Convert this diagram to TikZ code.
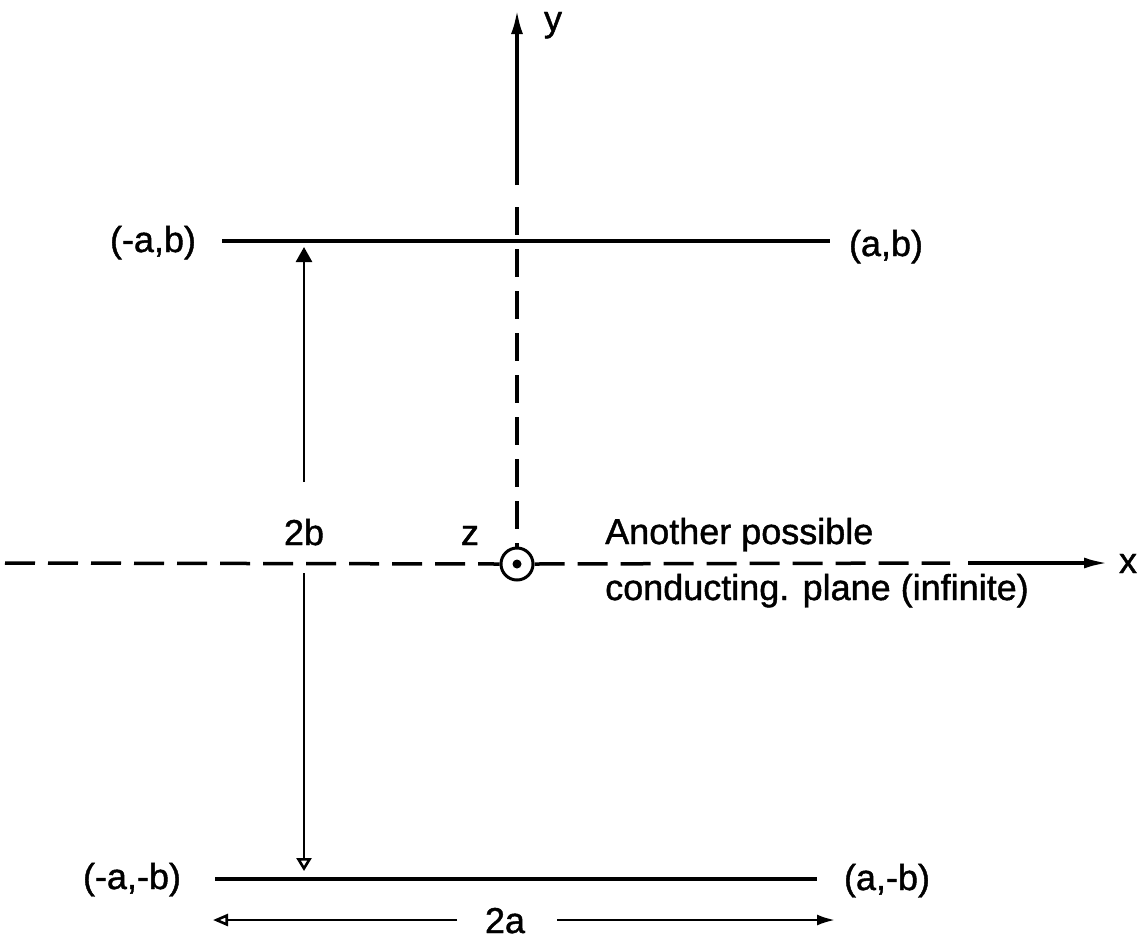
\documentclass[tikz,border=0pt]{standalone}
\usepackage{fontspec}
\setmainfont{Liberation Sans}
\newfontfamily\lettering{Liberation Sans}[FakeBold=1.2]
\usetikzlibrary{arrows.meta}
\begin{document}
\begin{tikzpicture}[x=1pt,y=-1pt,
  plate/.style={line width=4.5pt},
  axisline/.style={line width=3.5pt},
  dimline/.style={line width=2.6pt},
  dashy/.style={dash pattern=on 28pt off 14pt},
  dashx/.style={dash pattern=on 30pt off 13pt},
  lab/.style={font=\lettering\fontsize{36}{40}\selectfont, inner sep=0pt, anchor=base},
  labw/.style={lab, anchor=base west}]
\useasboundingbox (0,0) rectangle (1147,940);

% plates
\coordinate (TL) at (222,241);
\coordinate (TR) at (830,241);
\coordinate (BL) at (215,879);
\coordinate (BR) at (817,879);
\draw[plate] (TL) -- (TR);
\draw[plate] (BL) -- (BR);

% z-axis marker (out of page)
\node[draw, circle, minimum size=32pt, inner sep=0pt, line width=3pt] (Z) at (517,564) {};
\fill (Z.center) circle (4.5pt);

% y axis
\coordinate (Ytip) at (517,10);
\coordinate (Ybrk) at (517,185);
\coordinate (Ydash) at (517,207);
\draw[axisline, -{Latex[length=24pt,width=12pt]}] (Ybrk) -- (Ytip);
\draw[axisline, dashy] (Ydash) -- (Z.north);

% x axis
\coordinate (Xl) at (5,563);
\coordinate (Xd) at (950,563);
\coordinate (Xs) at (968,563);
\coordinate (Xtip) at (1108,563);
\draw[axisline, dashx] (Xl) -- (Z.west);
\draw[axisline, dashx] (Z.east) -- (Xd);
\draw[axisline, -{Latex[length=24pt,width=11pt]}] (Xs) -- (Xtip);

% labels
\node[lab] (lTL) at (153,252) {(-a,b)};
\node[lab] (lTR) at (886,256) {(a,b)};
\node[lab] (lBL) at (132,889) {(-a,-b)};
\node[lab] (lBR) at (887,890) {(a,-b)};
\node[lab] (l2b) at (304,545) {2b};
\node[lab] (lz) at (470,545) {z};
\node[lab] (l2a) at (505,933) {2a};
\node[lab] (ly) at (553,31) {y};
\node[lab] (lx) at (1128,573) {x};
\node[labw] (lt1) at (605,544) {Another possible};
\node[labw] (lt2) at (605,600) {conducting. plane (infinite)};

% 2b dimension
\coordinate (Bu0) at (304,482);
\coordinate (Bu1) at (304,247);
\coordinate (Bd0) at (304,573);
\coordinate (Bd1) at (304,871);
\draw[dimline, -{Triangle[length=15pt,width=16pt]}] (Bu0) -- (Bu1);
\draw[dimline, -{Triangle[open,length=13pt,width=15pt]}] (Bd0) -- (Bd1);

% 2a dimension
\coordinate (Al0) at (457,920);
\coordinate (Al1) at (213,920);
\coordinate (Ar0) at (557,920);
\coordinate (Ar1) at (835,920);
\draw[dimline, -{Triangle[open,length=15pt,width=12pt]}] (Al0) -- (Al1);
\draw[dimline, -{Latex[length=18pt,width=11pt]}] (Ar0) -- (Ar1);
\end{tikzpicture}
\end{document}
